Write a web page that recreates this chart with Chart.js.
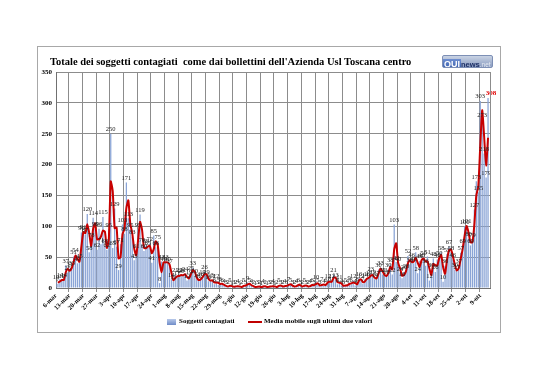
<!DOCTYPE html>
<html><head><meta charset="utf-8">
<script src="https://cdn.jsdelivr.net/npm/chart.js@4.4.0/dist/chart.umd.min.js"></script>
<style>
html,body{margin:0;padding:0;background:#fff;}
#wrap{position:relative;width:538px;height:380px;overflow:hidden;background:#fff;}
#c{position:absolute;left:0;top:0;}
#frame{position:absolute;left:37px;top:46px;width:462px;height:285px;border:1px solid #a8a8a8;}
#title{position:absolute;left:50px;top:56px;font:bold 10.5px 'Liberation Serif';color:#000;white-space:pre;}
#logo{position:absolute;left:442px;top:55px;width:51px;height:13px;border-radius:2px;background:linear-gradient(#c9d3e4,#8a9cc0);border:1px solid #7d8fb5;box-sizing:border-box;font-family:'Liberation Sans';line-height:11px;white-space:nowrap;overflow:hidden;}
#logo .q{display:inline-block;background:linear-gradient(#6f8fd0,#2e55a8);color:#fff;font-weight:bold;font-size:9px;padding:0 1px;}
#logo .n{color:#1d2f66;font-size:7.5px;font-weight:bold;}
#logo .t{color:#e8ecf4;font-size:6.5px;}
.lt{position:absolute;font:bold 7px 'Liberation Serif';color:#000;white-space:pre;}
#lbar{position:absolute;left:167px;top:319px;width:9px;height:6px;background:linear-gradient(#b8c9ea,#6f8cc8);}
#lline{position:absolute;left:248px;top:321px;width:14px;height:2px;background:#c00000;}
</style></head>
<body><div id="wrap">
<div id="frame"></div>
<canvas id="c" width="538" height="380"></canvas>
<div id="title">Totale dei soggetti contagiati  come dai bollettini dell'Azienda Usl Toscana centro</div>
<div id="logo"><span class="q">QUI</span><span class="n">news</span><span class="t">.net</span></div>
<div id="lbar"></div><div class="lt" style="left:179px;top:317px;">Soggetti contagiati</div>
<div id="lline"></div><div class="lt" style="left:264px;top:317px;">Media mobile sugli ultimi due valori</div>
</div>
<script>
// weekly tick labels
const tickLabels = ['6-mar','13-mar','20-mar','27-mar','3-apr','10-apr','17-apr','24-apr','1-mag','8-mag','15-mag','22-mag','29-mag','5-giu','12-giu','19-giu','26-giu','3-lug','10-lug','17-lug','24-lug','31-lug','7-ago','14-ago','21-ago','28-ago','4-set','11-set','18-set','25-set','2-ott','9-ott'];
const monthNames = ['mar','apr','mag','giu','lug','ago','set','ott'];
const monthLengths = [31,30,31,30,31,31,30,31];

// daily "Soggetti contagiati" by month
const casesMar = [10,7,14,12,14,37,25,31,33,51,54,40,45,90,91,87,120,58,78,114,96,62,96,71,115,68];
const casesApr = [62,95,250,65,129,67,29,71,103,88,171,113,95,83,45,61,95,119,70,60,69,65,72,41,85,66,75,8,43,40];
const casesMag = [43,40,37,14,11,21,17,22,20,21,24,12,19,25,33,20,14,12,16,19,26,19,11,13,12,6,12,5,8,6,4];
const casesGiu = [3,2,5,1,3,2,4,1,2,5,3,9,5,4,2,1,3,2,1,4,2,1,3,2,4,1,2,5,3,2];
const casesLug = [4,3,7,5,3,2,4,6,3,2,5,3,2,4,6,3,10,5,3,7,4,6,12,8,12,21,13,6,11,4,3];
const casesAgo = [5,4,9,6,12,4,8,16,12,7,14,16,17,23,19,14,17,30,33,22,21,18,30,38,22,103,42,40,24,16,26];
const casesSet = [28,52,38,46,40,58,24,44,46,50,36,51,12,30,48,26,46,50,58,10,36,55,67,58,46,30,27,37,57,69];
const casesOtt = [100,101,80,69,79,127,173,155,303,273,218,179,308];

// "Media mobile sugli ultimi due valori" by month
const mmMar = [null,8.5,10.5,13,13,25.5,31,28,32,42,52.5,47,42.5,67.5,90.5,89,103.5,89,68,96,105,79,79,83.5,93,91.5];
const mmApr = [65,78.5,172.5,157.5,97,98,48,50,87,95.5,129.5,142,104,89,64,53,78,107,94.5,65,64.5,67,68.5,56.5,63,75.5,70.5,41.5,25.5,41.5];
const mmMag = [41.5,41.5,38.5,25.5,12.5,16,19,19.5,21,20.5,22.5,18,15.5,22,29,26.5,17,13,14,17.5,22.5,22.5,15,12,12.5,9,9,8.5,6.5,7,5];
const mmGiu = [3.5,2.5,3.5,3,2,2.5,3,2.5,1.5,3.5,4,6,7,4.5,3,1.5,2,2.5,1.5,2.5,3,1.5,2,2.5,3,2.5,1.5,3.5,4,2.5];
const mmLug = [3,3.5,5,6,4,2.5,3,5,4.5,2.5,3.5,4,2.5,3,5,4.5,6.5,7.5,4,5,5.5,5,9,10,10,16.5,17,9.5,8.5,7.5,3.5];
const mmAgo = [4,4.5,6.5,7.5,9,8,6,12,14,9.5,10.5,15,16.5,20,21,16.5,15.5,23.5,31.5,27.5,21.5,19.5,24,34,30,62.5,72.5,41,32,20,21];
const mmSet = [27,40,45,42,43,49,41,34,45,48,43,43.5,31.5,21,39,37,36,48,54,34,23,45.5,61,62.5,52,38,28.5,32,47,63];
const mmOtt = [84.5,100.5,90.5,74.5,74,103,150,164,229,288,245.5,198.5,243.5];

const yTicks = [0,50,100,150,200,250,300,350];

const cases = [].concat(casesMar,casesApr,casesMag,casesGiu,casesLug,casesAgo,casesSet,casesOtt);
const movingAvg = [].concat(mmMar,mmApr,mmMag,mmGiu,mmLug,mmAgo,mmSet,mmOtt);

// daily categories 6-mar .. 14-ott
const categories = [];
let m = 0, d = 6;
while (categories.length < cases.length + 1) {
  categories.push(d + '-' + monthNames[m]);
  d++; if (d > monthLengths[m]) { d = 1; m++; }
}

const FONT = "'Liberation Serif'";
const barLabels = {
  id: 'barLabels',
  afterDatasetsDraw(chart) {
    const ctx = chart.ctx;
    const idx = chart.data.datasets.findIndex(ds => ds.type === 'bar');
    const meta = chart.getDatasetMeta(idx);
    const vals = chart.data.datasets[idx].data;
    ctx.save();
    ctx.textAlign = 'center'; ctx.textBaseline = 'bottom';
    meta.data.forEach((el, i) => {
      const v = vals[i]; if (v == null) return;
      const last = i === vals.length - 1;
      ctx.fillStyle = last ? '#e00000' : '#222';
      ctx.font = last ? 'bold 7px ' + FONT : '6.5px ' + FONT;
      ctx.fillText(String(v), el.x + (last ? 3 : 0), el.y - 1);
    });
    const a = chart.chartArea;
    ctx.strokeStyle = '#8c8c8c'; ctx.lineWidth = 1;
    ctx.beginPath(); ctx.moveTo(Math.round(a.right) + 0.5, a.top); ctx.lineTo(Math.round(a.right) + 0.5, a.bottom); ctx.stroke();
    ctx.restore();
  }
};

new Chart(document.getElementById('c'), {
  data: {
    labels: categories,
    datasets: [
      { type: 'line', label: 'Media mobile sugli ultimi due valori', data: movingAvg, borderColor: '#c80000', borderWidth: 2, pointRadius: 0, tension: 0.2, order: 0, spanGaps: true },
      { type: 'bar', label: 'Soggetti contagiati', data: cases, backgroundColor: '#8aa4d6', borderWidth: 0, barPercentage: 0.65, categoryPercentage: 1, order: 1 }
    ]
  },
  options: {
    responsive: false, animation: false,
    layout: { padding: { left: 0, top: 72, right: 48, bottom: 60 } },
    plugins: { legend: { display: false }, tooltip: { enabled: false }, title: { display: false } },
    scales: {
      x: {
        offset: false,
        grid: { color: c => (c.index % 7 === 0 ? '#8c8c8c' : 'rgba(0,0,0,0)'), tickLength: 4, drawOnChartArea: true },
        border: { color: '#707070' },
        ticks: { autoSkip: false, minRotation: 45, maxRotation: 45, padding: 0, color: '#000', font: { family: FONT, size: 6.5, weight: 'bold' },
          callback: (v, i) => (i % 7 === 0 ? tickLabels[i / 7] : '') },
        afterFit: s => { s.height = 32; }
      },
      y: {
        min: 0, max: 350,
        afterBuildTicks: s => { s.ticks = yTicks.map(v => ({ value: v })); },
        grid: { color: '#8c8c8c', tickLength: 0 },
        border: { color: '#707070' },
        ticks: { padding: 4, color: '#000', font: { family: FONT, size: 7, weight: 'bold' } },
        afterFit: s => { s.width = 56; }
      }
    }
  },
  plugins: [barLabels]
});
</script>
</body></html>
